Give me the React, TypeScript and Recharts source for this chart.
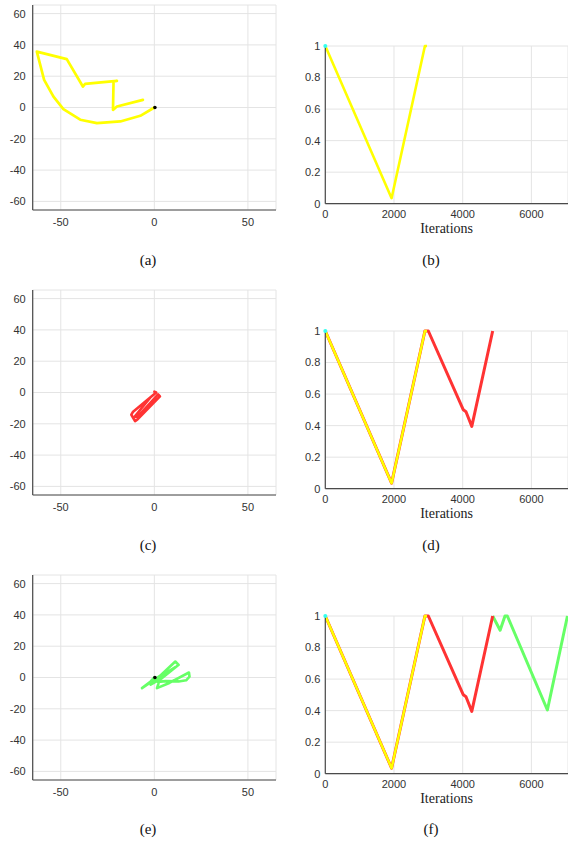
import React from 'react';
import { LineChart, Line, XAxis, YAxis, CartesianGrid, ReferenceDot, Label } from 'recharts';

// Trajectory panels (a), (c), (e)
const trajAX = [0, -7.5, -18.2, -30.7, -39.6, -48.6, -53.9, -58.9, -62.8, -46.8, -38.2, -37, -20, -21.8, -22.1, -20, -6.1];
const trajAY = [0, -5.3, -8.9, -10, -7.8, -1, 7, 17.7, 35.7, 30.9, 13.4, 15.1, 17, 16.6, -1.5, 0.6, 4.9];

const trajCX = [0, 1, -11.5, -12.3, -10.3, -9, 3, 2, -8.5, -10.8, -2];
const trajCY = [0.5, 0, -12.5, -14.2, -18.3, -17.2, -2.5, -1.2, -15, -15.8, -3];

const trajEX = [0, -2, -6.6, 3, 11.2, 13, 4, -2, 5, 11, 3, 1.4, 8, 18.5, 18.8, 17, 13, 6, 2];
const trajEY = [0, -2.5, -6.8, 1, 10.2, 8.1, -0.5, -4.5, 2, 6.5, -1, -6.8, -3.5, 3.2, 0.5, -1.8, -2.5, -2.3, -2.8];

const trajXTicks = [-50, 0, 50];
const trajYTicks = [-60, -40, -20, 0, 20, 40, 60];

// Iteration panels (b), (d), (f)
const yellowIter = [0, 1930, 2900, 2960];
const yellowVal = [1, 0.035, 1, 1];
const redIter = [3000, 4018, 4096, 4265, 4873];
const redVal = [1, 0.5, 0.488, 0.395, 1];
const greenIter = [4873, 5090, 5231, 5300, 6466, 7050];
const greenVal = [1, 0.91, 1, 1, 0.404, 1];

const iterXTicks = [0, 2000, 4000, 6000];
const iterYTicks = [0, 0.2, 0.4, 0.6, 0.8, 1];

const captions = ['(a)', '(b)', '(c)', '(d)', '(e)', '(f)'];

const YELLOW = '#ffff00';
const RED = '#ff3333';
const GREEN = '#66ff66';
const CYAN = '#33ffee';
const GRID = '#e4e4e4';
const AXIS = '#4a4a4a';
const TICKFONT = { fontFamily: 'Liberation Sans, Arial, sans-serif', fontSize: 11, fill: '#333333' };

const zip = (xs: number[], ys: number[]) => xs.map((x, i) => ({ x, y: ys[i] }));

type Series = { data: { x: number; y: number }[]; color: string; width: number };

function TrajPanel({ top, series, showDot }: { top: number; series: Series[]; showDot: boolean }) {
  return (
    <div style={{ position: 'absolute', left: 0, top, width: 284, height: 240 }}>
      <LineChart width={284} height={240} margin={{ top: 5, right: 8, bottom: 0, left: 0 }}>
        <CartesianGrid stroke={GRID} strokeWidth={1} />
        <XAxis
          type="number"
          dataKey="x"
          domain={[-65, 65]}
          ticks={trajXTicks}
          allowDataOverflow
          height={30}
          tickLine={false}
          tickSize={6}
          tickMargin={2}
          axisLine={{ stroke: AXIS, strokeWidth: 1.2 }}
          tick={TICKFONT}
        />
        <YAxis
          type="number"
          dataKey="y"
          domain={[-65.5, 65.5]}
          ticks={trajYTicks}
          allowDataOverflow
          width={32.7}
          tickLine={false}
          tickSize={5}
          tickMargin={2}
          axisLine={{ stroke: AXIS, strokeWidth: 1.2 }}
          tick={TICKFONT}
        />
        {series.map((s, i) => (
          <Line
            key={i}
            data={s.data}
            dataKey="y"
            stroke={s.color}
            strokeWidth={s.width}
            dot={false}
            activeDot={false}
            strokeLinejoin="round"
            strokeLinecap="round"
            isAnimationActive={false}
          />
        ))}
        {showDot && <ReferenceDot x={0.3} y={0} r={1.8} fill="#000" stroke="none" />}
      </LineChart>
    </div>
  );
}

function IterPanel({ top, series }: { top: number; series: Series[] }) {
  return (
    <div style={{ position: 'absolute', left: 284, top, width: 284, height: 240 }}>
      <LineChart width={284} height={240} margin={{ top: 46, right: 0, bottom: 0, left: 0 }}>
        <CartesianGrid stroke={GRID} strokeWidth={1} />
        <XAxis
          type="number"
          dataKey="x"
          domain={[0, 7066]}
          ticks={iterXTicks}
          allowDataOverflow
          height={36.3}
          tickLine={false}
          tickSize={4}
          tickMargin={2}
          axisLine={{ stroke: AXIS, strokeWidth: 1.2 }}
          tick={TICKFONT}
        >
          <Label
            value="Iterations"
            position="insideBottom"
            offset={7}
            style={{ fontFamily: 'Liberation Serif, Times New Roman, serif', fontSize: 14, fill: '#222' }}
          />
        </XAxis>
        <YAxis
          type="number"
          dataKey="y"
          domain={[0, 1]}
          ticks={iterYTicks}
          width={41.3}
          tickLine={false}
          tickSize={3}
          tickMargin={2}
          axisLine={{ stroke: AXIS, strokeWidth: 1.2 }}
          tick={TICKFONT}
        />
        {series.map((s, i) => (
          <Line
            key={i}
            data={s.data}
            dataKey="y"
            stroke={s.color}
            strokeWidth={s.width}
            dot={false}
            activeDot={false}
            strokeLinejoin="round"
            isAnimationActive={false}
          />
        ))}
        <ReferenceDot x={0} y={1} r={2} fill={CYAN} stroke="none" />
      </LineChart>
    </div>
  );
}

export default function App() {
  const yellow = zip(yellowIter, yellowVal);
  const redFull = zip([...yellowIter, ...redIter], [...yellowVal, ...redVal]);
  const green = zip(greenIter, greenVal);

  const rows = [0, 285, 570];
  const captionY = [252, 537, 821];

  return (
    <div style={{ position: 'absolute', left: 0, top: 0, width: 568, height: 842, background: '#fff' }}>
      <TrajPanel top={rows[0]} showDot series={[{ data: zip(trajAX, trajAY), color: YELLOW, width: 2.7 }]} />
      <IterPanel top={rows[0]} series={[{ data: yellow, color: YELLOW, width: 2.6 }]} />

      <TrajPanel top={rows[1]} showDot={false} series={[{ data: zip(trajCX, trajCY), color: RED, width: 2.6 }]} />
      <IterPanel
        top={rows[1]}
        series={[
          { data: redFull, color: RED, width: 3 },
          { data: yellow, color: YELLOW, width: 2.5 },
        ]}
      />

      <TrajPanel top={rows[2]} showDot series={[{ data: zip(trajEX, trajEY), color: GREEN, width: 2.6 }]} />
      <IterPanel
        top={rows[2]}
        series={[
          { data: green, color: GREEN, width: 3 },
          { data: redFull, color: RED, width: 3 },
          { data: yellow, color: YELLOW, width: 2.5 },
        ]}
      />

      {captions.map((c, i) => (
        <div
          key={c}
          style={{
            position: 'absolute',
            left: (i % 2 === 0 ? 148 : 431) - 30,
            top: captionY[Math.floor(i / 2)],
            width: 60,
            textAlign: 'center',
            fontFamily: 'Liberation Serif, Times New Roman, serif',
            fontSize: 15,
            color: '#111',
            lineHeight: '16px',
          }}
        >
          {c}
        </div>
      ))}
    </div>
  );
}
